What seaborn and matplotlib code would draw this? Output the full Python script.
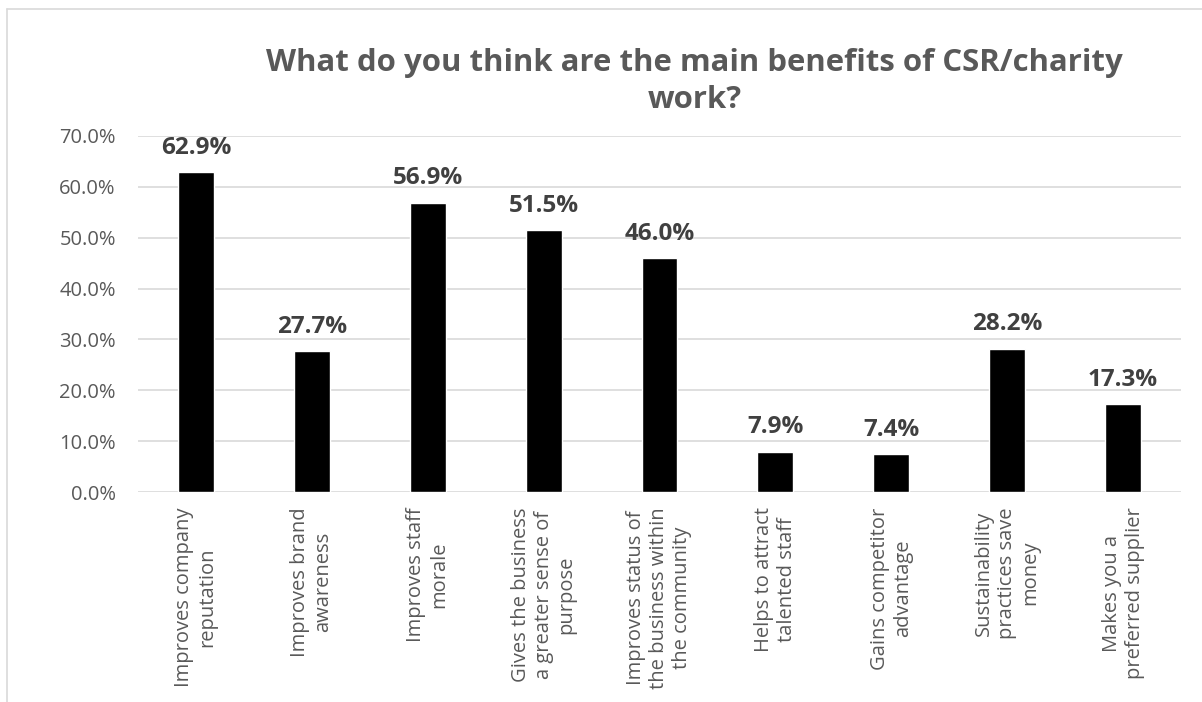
import matplotlib
matplotlib.use("Agg")
import matplotlib.pyplot as plt
from matplotlib.lines import Line2D
from matplotlib.ticker import FuncFormatter
import seaborn as sns
import pandas as pd

categories = [
    "Improves company\nreputation",
    "Improves brand\nawareness",
    "Improves staff\nmorale",
    "Gives the business\na greater sense of\npurpose",
    "Improves status of\nthe business within\nthe community",
    "Helps to attract\ntalented staff",
    "Gains competitor\nadvantage",
    "Sustainability\npractices save\nmoney",
    "Makes you a\npreferred supplier",
]
values = [62.9, 27.7, 56.9, 51.5, 46.0, 7.9, 7.4, 28.2, 17.3]
y_ticks = [0, 10, 20, 30, 40, 50, 60, 70]

sns.set_style("white")
plt.rcParams["font.family"] = ["Open Sans", "DejaVu Sans"]

df = pd.DataFrame({"benefit": categories, "share": values})

fig = plt.figure(figsize=(12.02, 7.02), dpi=100)
ax = fig.add_axes([0.1148, 0.2991, 0.8677, 0.5072])

sns.barplot(data=df, x="benefit", y="share", color="black", width=0.31,
            saturation=1, ax=ax, zorder=3)

ax.set_ylim(0, 70)
ax.set_yticks(y_ticks)
ax.yaxis.set_major_formatter(FuncFormatter(lambda v, _: f"{v:.1f}%"))
ax.grid(axis="y", color="#d9d9d9", linewidth=1.2, zorder=0)
ax.grid(axis="x", visible=False)
for s in ax.spines.values():
    s.set_visible(False)
ax.set_xlabel("")
ax.set_ylabel("")
ax.tick_params(axis="y", length=0, pad=16, labelsize=14.5, labelcolor="#595959")
ax.tick_params(axis="x", length=0, pad=11, labelsize=14.5, labelcolor="#595959")
for lbl in ax.get_xticklabels():
    lbl.set_rotation(90)
    lbl.set_multialignment("center")
    lbl.set_va("top")
    lbl.set_ha("center")

ax.bar_label(ax.containers[0], labels=[f"{v:.1f}%" for v in values],
             padding=9, fontsize=17.5, fontweight="bold", color="#404040")

fig.text(0.578, 0.884, "What do you think are the main benefits of CSR/charity\nwork?",
         ha="center", va="center", multialignment="center", fontsize=22.4,
         fontweight="bold", color="#595959", linespacing=1.3)

# outer chart frame
fig.add_artist(Line2D([0.0058, 0.0058], [0.0, 0.987], color="#d9d9d9", linewidth=1.2,
                      transform=fig.transFigure))
fig.add_artist(Line2D([0.0058, 1.0], [0.987, 0.987], color="#d9d9d9", linewidth=1.2,
                      transform=fig.transFigure))

fig.savefig("out.png", dpi=100)
